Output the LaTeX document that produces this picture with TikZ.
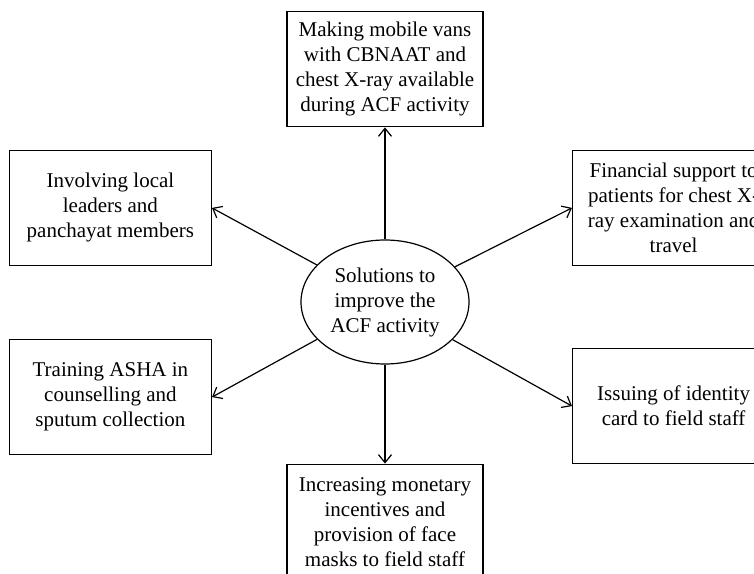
\documentclass[tikz,border=0pt]{standalone}
\usepackage{fontspec}
\setmainfont{Liberation Serif}
\usepackage{tikz}
\usetikzlibrary{shapes.geometric,arrows.meta,positioning}

\begin{document}
\begin{tikzpicture}[
    box/.style={rectangle, draw, line width=0.6pt, minimum width=101pt, minimum height=57.5pt, align=center, inner sep=2pt, font=\fontsize{10.5}{12.5}\selectfont},
    hub/.style={ellipse, draw, line width=0.6pt, minimum width=84pt, minimum height=62pt, inner sep=0pt, align=center, font=\fontsize{10.5}{12.5}\selectfont},
    arrow/.style={-{Straight Barb[length=4pt,width=6.5pt]}, line width=0.6pt}
  ]
    \useasboundingbox (-192.5pt,-135.5pt) rectangle (184.5pt,151pt);
    \clip (-192.5pt,-135.5pt) rectangle (184.5pt,151pt);

    % Centre node and the six solutions
    \node[hub] (sol) at (0,0) {Solutions to\\improve the\\ACF activity};
    \node[box, minimum width=98pt, above=56pt of sol] (vans) {Making mobile vans\\with CBNAAT and\\chest X-ray available\\during ACF activity};
    \node[box, above left=18pt and 86.5pt of sol.center] (leaders) {Involving local\\leaders and\\panchayat members};
    \node[box, above right=18pt and 93.5pt of sol.center] (finance) {Financial support to\\patients for chest X-\\ray examination and\\travel};
    \node[box, below left=18.5pt and 86.5pt of sol.center] (asha) {Training ASHA in\\counselling and\\sputum collection};
    \node[box, below right=23pt and 93.5pt of sol.center] (idcard) {Issuing of identity\\card to field staff};
    \node[box, minimum width=98pt, below=49.5pt of sol] (masks) {Increasing monetary\\incentives and\\provision of face\\masks to field staff};

    % Arrows
    \draw[arrow] (sol) -- (vans);
    \draw[arrow] (sol) -- (leaders.east);
    \draw[arrow] (sol) -- (finance.west);
    \draw[arrow] (sol) -- (asha.east);
    \draw[arrow] (sol) -- (idcard.west);
    \draw[arrow] (sol) -- (masks);
  \end{tikzpicture}
\end{document}
